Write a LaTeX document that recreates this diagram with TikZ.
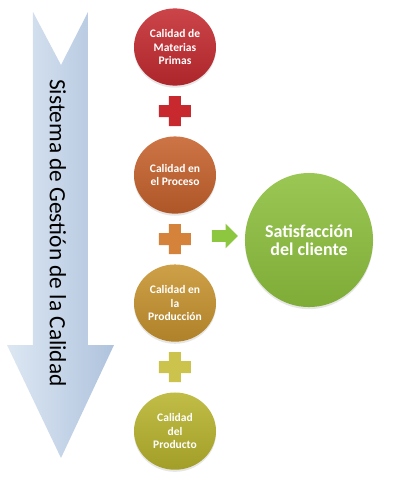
\documentclass[tikz,border=0pt]{standalone}
\usepackage{fontspec}
\setmainfont{Carlito}
\usetikzlibrary{positioning,shapes.geometric,shapes.arrows,shadows}

\definecolor{redA}{HTML}{C42B30}
\definecolor{orangeA}{HTML}{C6622C}
\definecolor{amberA}{HTML}{C7932F}
\definecolor{oliveA}{HTML}{B8B42E}
\definecolor{greenA}{HTML}{8DBF3D}
\definecolor{redP}{HTML}{C8292E}
\definecolor{orangeP}{HTML}{D5823A}
\definecolor{oliveP}{HTML}{CBC34C}
\definecolor{greenP}{HTML}{8DC63F}
\definecolor{blueL}{HTML}{DDE7F3}
\definecolor{blueD}{HTML}{AFC3DD}

\begin{document}
\begin{tikzpicture}[x=0.025cm,y=-0.025cm,node distance=1.6cm,
  stage/.style={ellipse,minimum width=2.05cm,minimum height=1.93cm,inner sep=0pt,
    align=center,text=white,font=\fontsize{8.2}{9.6}\selectfont\bfseries,
    drop shadow={opacity=0.2,shadow xshift=0pt,shadow yshift=-1.5pt},
    top color=#1!88!white,bottom color=#1!88!black},
  plussign/.pic={\fill (-16,-6) -- (-6,-6) -- (-6,-15) -- (6,-15) -- (6,-6) -- (16,-6)
    -- (16,6) -- (6,6) -- (6,15) -- (-6,15) -- (-6,6) -- (-16,6) -- cycle;}]
  \useasboundingbox (0,0) rectangle (400,483);

  % big arrow
  \shade[left color=blueL,right color=blueD] (33,12) -- (61,65) -- (88,12) -- (88,345)
    -- (114,345) -- (61,458) -- (7,345) -- (33,345) -- cycle;
  \node[rotate=-90,font=\fontsize{16.6}{18}\selectfont] (sgc) at (58,233) {Sistema de Gestión de la Calidad};

  \node[stage=redA] (mp) at (175,47) {Calidad de\\Materias\\Primas};
  \coordinate[below of=mp] (p1);
  \node[stage=orangeA] (pr) [below of=p1] {Calidad en\\el Proceso};
  \coordinate[below of=pr] (p2);
  \node[stage=amberA] (pd) [below of=p2] {Calidad en\\la\\Producción};
  \coordinate[below of=pd] (p3);
  \node[stage=oliveA] (pt) [below of=p3] {Calidad\\del\\Producto};

  \pic[fill=redP] at (p1) {plussign};
  \pic[fill=orangeP] at (p2) {plussign};
  \pic[fill=oliveP] at (p3) {plussign};

  \node[single arrow,fill=greenP,inner sep=0.1375cm,minimum height=0.65cm,
    single arrow head extend=0.1625cm] (ga) at (222,236) {};
  \node[ellipse,minimum width=3.2cm,minimum height=3.35cm,inner sep=0pt,align=center,
    top color=greenA!88!white,bottom color=greenA!90!black,text=white,
    drop shadow={opacity=0.2,shadow xshift=0pt,shadow yshift=-1.5pt},
    font=\fontsize{12.8}{12.5}\selectfont\bfseries] (sat) at (309,240) {Satisfacción\\del cliente};
\end{tikzpicture}
\end{document}
